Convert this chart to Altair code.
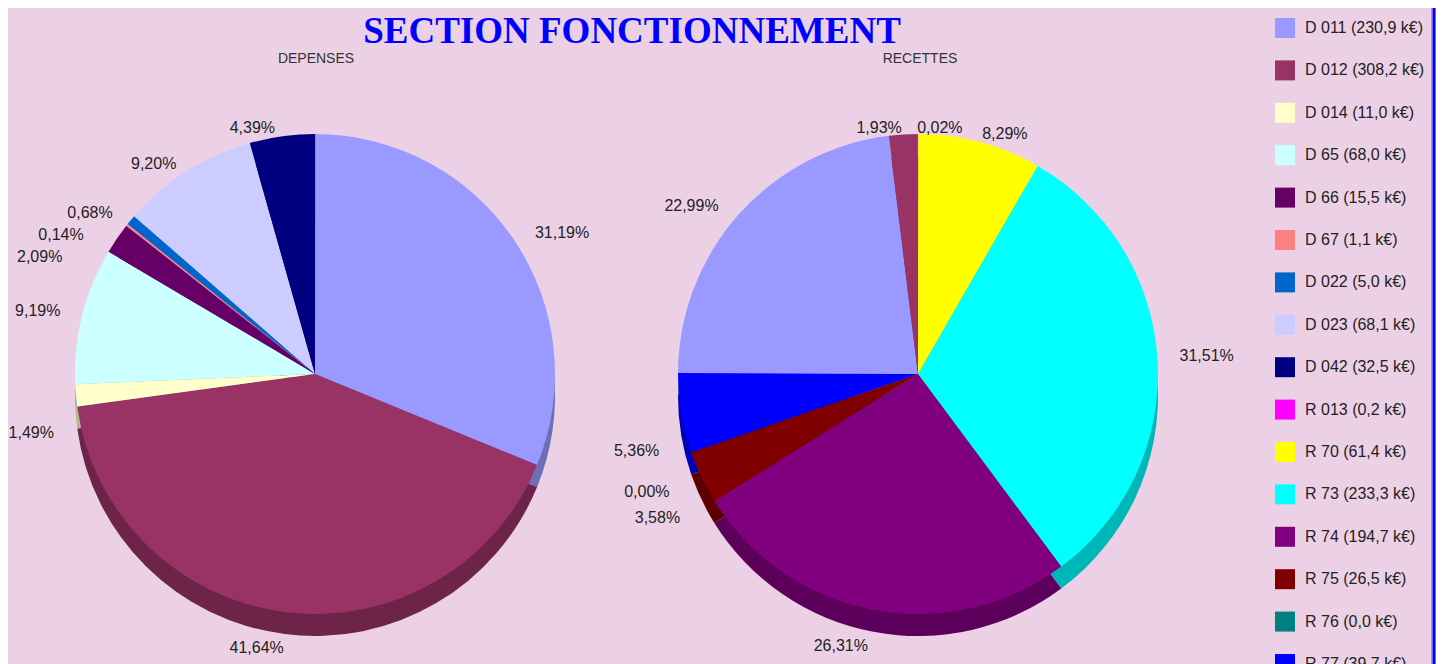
import json
import altair as alt
import pandas as pd

# ---------------- data ----------------
dep_codes = ["D 011", "D 012", "D 014", "D 65", "D 66", "D 67", "D 022", "D 023", "D 042"]
dep_amounts = [230.9, 308.2, 11.0, 68.0, 15.5, 1.1, 5.0, 68.1, 32.5]
dep_pct = [31.19, 41.64, 1.49, 9.19, 2.09, 0.14, 0.68, 9.20, 4.39]
dep_colors = ["#9999FF", "#993366", "#FFFFCC", "#CCFFFF", "#660066",
              "#FF8080", "#0066CC", "#CCCCFF", "#000080"]

rec_codes = ["R 013", "R 70", "R 73", "R 74", "R 75", "R 76", "R 77", "R 002", "R 042"]
rec_amounts = [0.2, 61.4, 233.3, 194.7, 26.5, 0.0, 39.7, 170.2, 14.3]
rec_pct = [0.02, 8.29, 31.51, 26.31, 3.58, 0.00, 5.36, 22.99, 1.93]
rec_colors = ["#FF00FF", "#FFFF00", "#00FFFF", "#800080", "#800000",
              "#008080", "#0000FF", "#9999FF", "#993366"]

TITLE = "SECTION FONCTIONNEMENT"
SUB_DEP = "DEPENSES"
SUB_REC = "RECETTES"

# ---------------- styling ----------------
BG = "#ECD1E6"
R = 240
DEPTH = 22
LOWER_DY = 24
W, H = 1428, 656
DEP_C = (307, 366)
REC_C = (910, 366)
LABEL_FONT = 16

# label offsets per octant of the pie (start %, end %, align, dx, dy)
OCTANTS = [
    (0, 12.5, "left", 0, 0),
    (12.5, 25, "left", 14, -3),
    (25, 37.5, "left", 14, LOWER_DY + 13),
    (37.5, 50, "left", 0, LOWER_DY + 4),
    (50, 62.5, "right", 0, LOWER_DY + 4),
    (62.5, 75, "right", -14, LOWER_DY + 13),
    (75, 87.5, "right", -14, -3),
    (87.5, 101, "right", -6, 0),
]


def fr(x, d):
    return f"{x:.{d}f}".replace(".", ",")


def darken(hexcol, f=0.72):
    h = hexcol.lstrip("#")
    r, g, b = (int(h[i:i + 2], 16) for i in (0, 2, 4))
    return "#%02X%02X%02X" % (int(r * f), int(g * f), int(b * f))


def make_df(codes, amounts, pct, colors):
    return pd.DataFrame({
        "idx": list(range(len(codes))),
        "code": codes,
        "legend": [f"{c} ({fr(a, 1)} k€)" for c, a in zip(codes, amounts)],
        "pct": pct,
        "text": [f"{fr(p, 2)}%" for p in pct],
        "dark": [darken(c) for c in colors],
    })


dep_df = make_df(dep_codes, dep_amounts, dep_pct, dep_colors)
rec_df = make_df(rec_codes, rec_amounts, rec_pct, rec_colors)

legend_domain = list(dep_df["legend"]) + list(rec_df["legend"])
legend_range = dep_colors + rec_colors
color_scale = alt.Scale(domain=legend_domain, range=legend_range)
theta_scale = alt.Scale(domain=[0, 100])

legend = alt.Legend(
    orient="none", legendX=1267, legendY=10, title=None,
    symbolType="square", symbolSize=400, symbolStrokeWidth=0,
    labelFontSize=16, labelFont="Liberation Sans", labelColor="#222222",
    labelOffset=10, rowPadding=22.4, labelLimit=300,
)


def pie_layers(df, center, specials):
    cx, cy = center
    base = alt.Chart(df).transform_window(
        cum="sum(pct)", sort=[alt.SortField("idx")], frame=[None, 0]
    ).transform_calculate(
        start="datum.cum - datum.pct", mid="datum.cum - datum.pct / 2"
    )
    side = base.mark_arc(radius=R).encode(
        theta=alt.Theta("start:Q", scale=theta_scale),
        theta2="cum:Q",
        fill=alt.Fill("dark:N", scale=None),
        x=alt.value(cx), y=alt.value(cy + DEPTH),
    )
    top = base.mark_arc(radius=R).encode(
        theta=alt.Theta("start:Q", scale=theta_scale),
        theta2="cum:Q",
        color=alt.Color("legend:N", scale=color_scale, legend=legend),
        x=alt.value(cx), y=alt.value(cy),
    )
    layers = [side, top]

    def lab(expr, align, dx, dy):
        return base.transform_filter(expr).mark_text(
            radius=R + 8, align=align, baseline="middle", dx=dx, dy=dy,
            fontSize=LABEL_FONT, font="Liberation Sans", color="#222222",
        ).encode(
            theta=alt.Theta("mid:Q", scale=theta_scale),
            text="text:N",
            x=alt.value(cx), y=alt.value(cy),
        )

    spec_codes = json.dumps(list(specials.keys()))
    notspec = f"indexof({spec_codes}, datum.code) < 0"
    for lo, hi, align, dx, dy in OCTANTS:
        layers.append(lab(f"{notspec} && datum.mid >= {lo} && datum.mid < {hi}", align, dx, dy))
    for code, (align, dx, dy) in specials.items():
        layers.append(lab(f"datum.code == '{code}'", align, dx, dy))
    return layers


dep_specials = {
    "D 66": ("right", -48, 23),
    "D 67": ("right", -37, 15),
    "D 022": ("right", -12, -2),
}
rec_specials = {
    "R 013": ("left", -1, 2),
    "R 74": ("right", -4, LOWER_DY + 4),
    "R 042": ("right", -1, 2),
}

title = alt.Chart(pd.DataFrame({"t": [TITLE]})).mark_text(
    font="Liberation Serif", fontSize=37, fontWeight="bold", color="#0000FF",
    align="center", baseline="alphabetic",
).encode(text="t:N", x=alt.value(624), y=alt.value(35))

sub_dep = alt.Chart(pd.DataFrame({"t": [SUB_DEP]})).mark_text(
    font="Liberation Sans", fontSize=14, color="#333333", align="center", baseline="alphabetic",
).encode(text="t:N", x=alt.value(308), y=alt.value(55))

sub_rec = alt.Chart(pd.DataFrame({"t": [SUB_REC]})).mark_text(
    font="Liberation Sans", fontSize=14, color="#333333", align="center", baseline="alphabetic",
).encode(text="t:N", x=alt.value(912), y=alt.value(55))

border_gray = alt.Chart(pd.DataFrame({"a": [0]})).mark_rule(color="#A0A0A0", strokeWidth=1).encode(
    x=alt.value(1423.5), y=alt.value(0), y2=alt.value(H))
border_blue = alt.Chart(pd.DataFrame({"a": [0]})).mark_rule(color="#0000FF", strokeWidth=3).encode(
    x=alt.value(1426), y=alt.value(0), y2=alt.value(H))

layers = (pie_layers(dep_df, DEP_C, dep_specials)
          + pie_layers(rec_df, REC_C, rec_specials)
          + [title, sub_dep, sub_rec, border_gray, border_blue])

chart = alt.layer(*layers).properties(
    width=W, height=H, autosize="none", padding=0, background=BG,
).configure_view(stroke=None)

chart.save("out.html", embed_options={"renderer": "svg", "actions": False})
